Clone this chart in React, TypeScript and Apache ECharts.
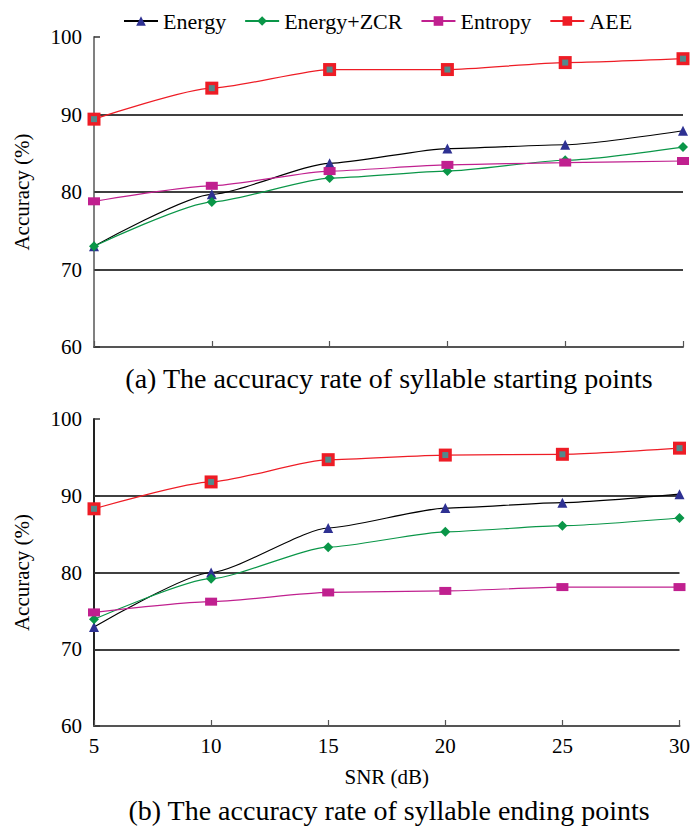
import React, { useEffect, useRef } from "react";
import * as echarts from "echarts";

const snr = [5, 10, 15, 20, 25, 30];
const yTicks = [60, 70, 80, 90, 100];
const seriesNames = ["Energy", "Energy+ZCR", "Entropy", "AEE"];

// (a) starting points
const startEnergy = [73.0, 79.7, 83.7, 85.6, 86.1, 87.9];
const startEnergyZcr = [73.0, 78.7, 81.8, 82.7, 84.1, 85.8];
const startEntropy = [78.8, 80.8, 82.7, 83.5, 83.8, 84.0];
const startAee = [89.4, 93.4, 95.8, 95.8, 96.7, 97.2];

// (b) ending points
const endEnergy = [72.9, 80.0, 85.8, 88.4, 89.1, 90.2];
const endEnergyZcr = [73.9, 79.2, 83.3, 85.3, 86.1, 87.1];
const endEntropy = [74.8, 76.2, 77.4, 77.6, 78.1, 78.1];
const endAee = [88.3, 91.8, 94.7, 95.3, 95.4, 96.2];

const FONT = "Liberation Serif";

const pairs = (vals: number[]) => vals.map((v, i) => [snr[i], v]);

function makeSeries(gridIdx: number, vals: number[][]) {
  const [en, ez, ent, aee] = vals;
  const base = {
    xAxisIndex: gridIdx,
    yAxisIndex: gridIdx,
    smooth: 0.2,
    smoothMonotone: "x",
    z: 3,
  };
  return [
    {
      ...base,
      name: "Energy",
      type: "line",
      data: pairs(en),
      symbol: "triangle",
      symbolSize: 10,
      itemStyle: { color: "#2e3192" },
      lineStyle: { color: "#000000", width: 1.2 },
    },
    {
      ...base,
      name: "Energy+ZCR",
      type: "line",
      data: pairs(ez),
      symbol: "diamond",
      symbolSize: 10,
      itemStyle: { color: "#0a9648" },
      lineStyle: { color: "#0a9648", width: 1.2 },
    },
    {
      ...base,
      name: "Entropy",
      type: "line",
      data: pairs(ent),
      symbol: "rect",
      symbolSize: [12, 8],
      itemStyle: { color: "#c0208f" },
      lineStyle: { color: "#c0208f", width: 1.2 },
    },
    {
      ...base,
      name: "AEE",
      type: "line",
      data: pairs(aee),
      symbol: "rect",
      symbolSize: 13,
      itemStyle: { color: "#ee1c25" },
      lineStyle: { color: "#ee1c25", width: 1.2 },
    },
    {
      xAxisIndex: gridIdx,
      yAxisIndex: gridIdx,
      name: "AEE-center",
      type: "scatter",
      data: pairs(aee),
      symbol: "rect",
      symbolSize: 6,
      z: 4,
      itemStyle: { color: "#2aa6a6" },
      silent: true,
    },
  ];
}

function yAxis(gridIdx: number, axisColor: string) {
  return {
    type: "value",
    gridIndex: gridIdx,
    min: yTicks[0],
    max: yTicks[yTicks.length - 1],
    interval: 10,
    name: "Accuracy (%)",
    nameLocation: "middle",
    nameGap: 62,
    nameTextStyle: { fontFamily: FONT, fontSize: 21, color: "#000" },
    axisLine: { show: true, lineStyle: { color: axisColor, width: 2 } },
    axisTick: { show: true, inside: true, length: 6, lineStyle: { color: "#333", width: 1.5 } },
    axisLabel: { fontFamily: FONT, fontSize: 21, color: "#000", margin: 12 },
    splitLine: {
      show: true,
      showMinLine: false,
      showMaxLine: false,
      lineStyle: { color: "#000", width: 1.5 },
    },
  };
}

function xAxis(gridIdx: number, showLabels: boolean) {
  return {
    type: "value",
    gridIndex: gridIdx,
    min: 5,
    max: 30,
    interval: 5,
    name: showLabels ? "SNR (dB)" : "",
    nameLocation: "middle",
    nameGap: 40,
    nameTextStyle: { fontFamily: FONT, fontSize: 21, color: "#000" },
    axisLine: { show: true, onZero: false, lineStyle: { color: "#555", width: 2 } },
    axisTick: { show: true, inside: true, length: 6, lineStyle: { color: "#555", width: 1.2 } },
    axisLabel: { show: showLabels, fontFamily: FONT, fontSize: 21, color: "#000", margin: 9 },
    splitLine: { show: false },
  };
}

export default function App() {
  const ref = useRef<HTMLDivElement>(null);
  useEffect(() => {
    document.body.style.margin = "0";
    if (!ref.current) return;
    const chart = echarts.init(ref.current, undefined, { renderer: "svg" });
    chart.setOption({
      animation: false,
      backgroundColor: "#ffffff",
      textStyle: { fontFamily: FONT },
      title: [
        {
          text: "(a) The accuracy rate of syllable starting points",
          left: 384,
          textAlign: "center",
          top: 359,
          textStyle: { fontFamily: FONT, fontSize: 28, fontWeight: "normal", color: "#000" },
        },
        {
          text: "(b) The accuracy rate of syllable ending points",
          left: 384,
          textAlign: "center",
          top: 791,
          textStyle: { fontFamily: FONT, fontSize: 28, fontWeight: "normal", color: "#000" },
        },
      ],
      legend: {
        data: seriesNames,
        left: 118,
        top: 5,
        itemWidth: 34,
        itemHeight: 12,
        itemGap: 18,
        textStyle: { fontFamily: FONT, fontSize: 22, color: "#000" },
      },
      grid: [
        { left: 94, top: 37, width: 589, height: 310 },
        { left: 94, top: 419, width: 589, height: 307 },
      ],
      xAxis: [xAxis(0, false), xAxis(1, true)],
      yAxis: [yAxis(0, "#808080"), yAxis(1, "#222")],
      series: [
        ...makeSeries(0, [startEnergy, startEnergyZcr, startEntropy, startAee]),
        ...makeSeries(1, [endEnergy, endEnergyZcr, endEntropy, endAee]),
      ],
    });
    return () => chart.dispose();
  }, []);
  return <div ref={ref} style={{ width: 693, height: 827 }} />;
}
